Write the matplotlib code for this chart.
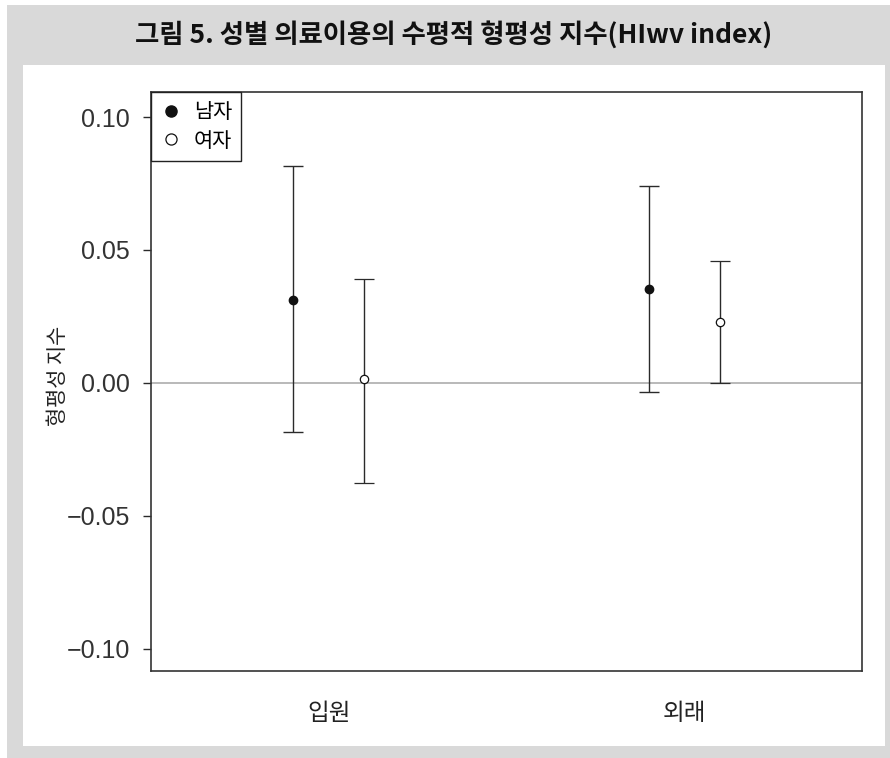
"""Horizontal equity index (HIwv) by sex, inpatient vs outpatient."""

import matplotlib

matplotlib.use("Agg")
import matplotlib.pyplot as plt
import numpy as np
from matplotlib.lines import Line2D
from matplotlib.patches import Rectangle

KR = ["Noto Sans CJK KR", "DejaVu Sans"]
NUM = ["Liberation Sans Narrow", "Liberation Sans", "DejaVu Sans"]

title = "그림 5. 성별 의료이용의 수평적 형평성 지수(HIwv index)"
categories = ["입원", "외래"]
series = ["남자", "여자"]
male_est = [0.0313, 0.0354]
male_lo = [-0.0185, -0.0034]
male_hi = [0.0817, 0.0742]
female_est = [0.0015, 0.0230]
female_lo = [-0.0377, 0.0000]
female_hi = [0.0392, 0.0460]
yticks = [-0.10, -0.05, 0.00, 0.05, 0.10]

W, H = 890, 758
fig = plt.figure(figsize=(W / 100, H / 100), dpi=100, facecolor="white")


def px_rect(x0, y0, x1, y1, color):
    fig.patches.append(Rectangle((x0 / W, 1 - y1 / H), (x1 - x0) / W, (y1 - y0) / H,
                                 transform=fig.transFigure, facecolor=color,
                                 edgecolor="none", zorder=-10))


px_rect(7, 5, 890, 758, "#d9d9d9")
px_rect(23, 65, 885, 746, "white")
fig.text(454 / W, 1 - 35 / H, title, ha="center", va="center", fontsize=19,
         fontweight="bold", family=KR, color="#111111")

ax = fig.add_axes([151 / W, 1 - 671 / H, (862 - 151) / W, (671 - 92) / H])
ax.set_zorder(5)
ax.set_xlim(0.5, 2.5)
ax.set_ylim(-0.1083, 0.1094)

x = np.arange(1, len(categories) + 1)
off = 0.1
ec = "#2a2a2a"
ax.axhline(0, color="#a6a6a6", lw=1.1, zorder=1)

m_est = np.array(male_est)
f_est = np.array(female_est)
ax.errorbar(x - off, m_est, yerr=[m_est - np.array(male_lo), np.array(male_hi) - m_est],
            fmt="o", ms=6, mfc="#111111", mec="#111111", ecolor=ec, elinewidth=1.0,
            capsize=7.5, capthick=1.0, zorder=3)
ax.errorbar(x + off, f_est, yerr=[f_est - np.array(female_lo), np.array(female_hi) - f_est],
            fmt="o", ms=6, mfc="white", mec="#111111", mew=0.9, ecolor=ec, elinewidth=1.0,
            capsize=7.5, capthick=1.0, zorder=3)

ax.set_xticks(x)
ax.set_xticklabels(categories, family=KR, fontsize=17, color="#222222")
ax.tick_params(axis="x", length=0, pad=22)
ax.set_yticks(yticks)
ax.set_yticklabels([f"{v:.2f}".replace("-", "\u2212") for v in yticks], family=NUM,
                   fontsize=18, color="#333333")
ax.tick_params(axis="y", length=6, width=1.0, color=ec, pad=9)
for s in ax.spines.values():
    s.set_color("#333333")
    s.set_linewidth(1.2)

ax.set_ylabel("형평성 지수", family=KR, fontsize=15, color="#222222")
ax.yaxis.set_label_coords(-0.115, 0.51)

handles = [
    Line2D([], [], ls="none", marker="o", ms=8, mfc="#111111", mec="#111111"),
    Line2D([], [], ls="none", marker="o", ms=8, mfc="white", mec="#111111", mew=0.9),
]
leg = ax.legend(handles, series, loc="upper left", borderaxespad=0, fancybox=False,
                edgecolor="#222222", framealpha=1, handlelength=1.0, handletextpad=0.6,
                borderpad=0.45, labelspacing=0.3, prop={"family": KR, "size": 15})
leg.get_frame().set_linewidth(1.0)

fig.savefig("out.png", dpi=100, facecolor=fig.get_facecolor())
